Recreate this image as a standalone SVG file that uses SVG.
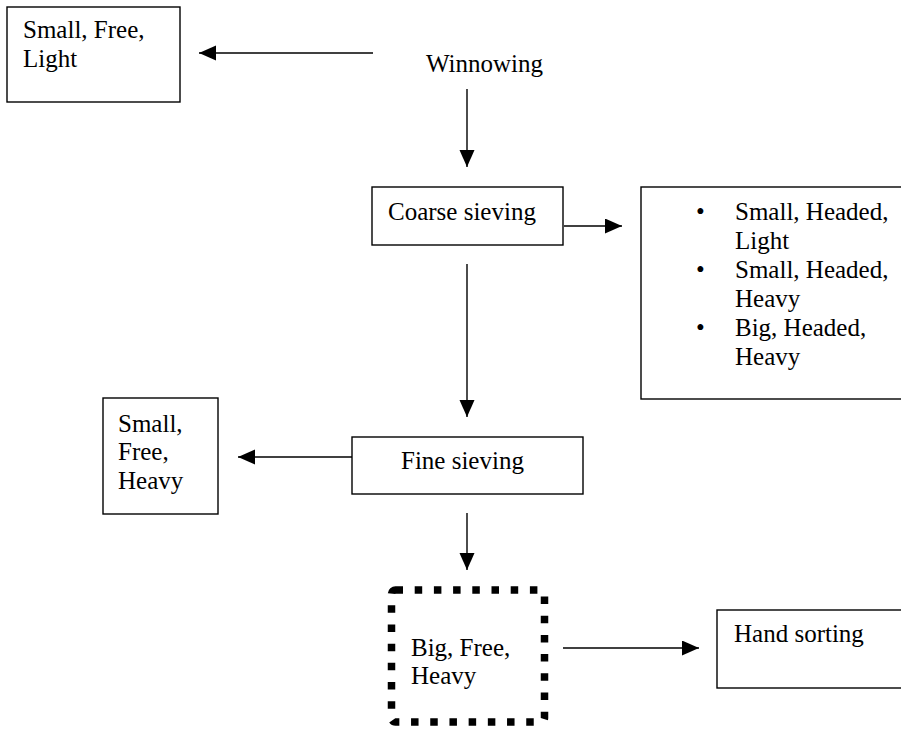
<svg xmlns="http://www.w3.org/2000/svg" width="901" height="730" viewBox="0 0 901 730">
<style>
.box{fill:#fff;stroke:#000;stroke-width:1.4}
.dot{fill:none;stroke:#000;stroke-width:7.5;stroke-dasharray:7.5 11.7}
.t{font-size:25px;fill:#000}
.c{stroke:#000;stroke-width:1.4;fill:none;marker-end:url(#ah)}
</style>
<defs>
<marker id="ah" markerUnits="userSpaceOnUse" markerWidth="18" markerHeight="16" refX="17" refY="7.5" orient="auto">
<path d="M0,0 L17,7.5 L0,15 z" fill="#000"/>
</marker>
</defs>
<rect width="901" height="730" fill="#fff"/>
<g id="connectors">
<line class="c" x1="373" y1="53" x2="199" y2="53"/>
<line class="c" x1="467" y1="89" x2="467" y2="167"/>
<line class="c" x1="564" y1="226" x2="622" y2="226"/>
<line class="c" x1="467" y1="264" x2="467" y2="417"/>
<line class="c" x1="352" y1="457" x2="238" y2="457"/>
<line class="c" x1="467" y1="513" x2="467" y2="570"/>
<line class="c" x1="563" y1="648" x2="699" y2="648"/>
</g>
<g font-family="'Liberation Serif', 'Times New Roman', 'DejaVu Serif', serif">
<g id="small-free-light">
<rect class="box" x="7" y="7" width="173" height="95"/>
<text class="t" x="23" y="38">Small, Free,</text>
<text class="t" x="23" y="67">Light</text>
</g>
<g id="winnowing">
<text class="t" x="426" y="72">Winnowing</text>
</g>
<g id="coarse-sieving">
<rect class="box" x="372" y="187" width="191" height="58"/>
<text class="t" x="388" y="220">Coarse sieving</text>
</g>
<g id="headed-list">
<rect class="box" x="641" y="187" width="270" height="212"/>
<text class="t" x="696" y="220">•</text>
<text class="t" x="735" y="220">Small, Headed,</text>
<text class="t" x="735" y="249">Light</text>
<text class="t" x="696" y="278">•</text>
<text class="t" x="735" y="278">Small, Headed,</text>
<text class="t" x="735" y="307">Heavy</text>
<text class="t" x="696" y="336">•</text>
<text class="t" x="735" y="336">Big, Headed,</text>
<text class="t" x="735" y="365">Heavy</text>
</g>
<g id="small-free-heavy">
<rect class="box" x="103" y="398" width="115" height="116"/>
<text class="t" x="118" y="432">Small,</text>
<text class="t" x="118" y="460">Free,</text>
<text class="t" x="118" y="489">Heavy</text>
</g>
<g id="fine-sieving">
<rect class="box" x="352" y="437" width="231" height="57"/>
<text class="t" x="401" y="469">Fine sieving</text>
</g>
<g id="big-free-heavy">
<rect class="dot" x="391.5" y="590" width="153" height="132" rx="4"/>
<text class="t" x="411" y="656">Big, Free,</text>
<text class="t" x="411" y="684">Heavy</text>
</g>
<g id="hand-sorting">
<rect class="box" x="717" y="610" width="200" height="78"/>
<text class="t" x="734" y="642">Hand sorting</text>
</g>
</g>
</svg>
